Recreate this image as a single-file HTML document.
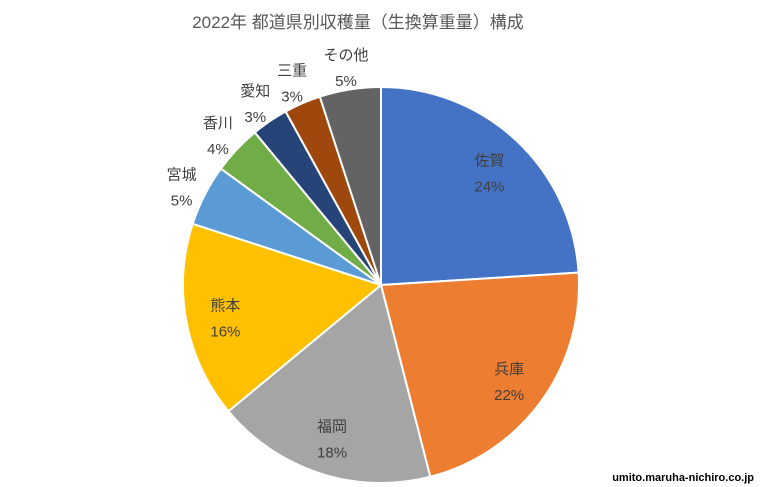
<!DOCTYPE html>
<html><head><meta charset="utf-8"><style>
body{margin:0;background:#fff;}
svg{display:block;font-family:"Liberation Sans","Noto Sans CJK JP",sans-serif;}
</style></head><body>
<svg id="chart" width="760" height="487">
<text x="358" y="28" text-anchor="middle" font-size="17" fill="#595959">2022年 都道県別収穫量（生換算重量）構成</text>
<g id="slices"></g>
<g id="labels"></g>
<text x="754" y="481" text-anchor="end" font-size="11" font-weight="bold" fill="#000">umito.maruha-nichiro.co.jp</text>
</svg>
<script>
const categories=["佐賀","兵庫","福岡","熊本","宮城","香川","愛知","三重","その他"];
const values=[24,22,18,16,5,4,3,3,5];
const colors=["#4472C4","#ED7D31","#A5A5A5","#FFC000","#5B9BD5","#70AD47","#264478","#9E480E","#636363"];
const cx=381,cy=285,r=198;
const ns="http://www.w3.org/2000/svg";
const total=values.reduce((a,b)=>a+b,0);
const sg=document.getElementById('slices'),lg=document.getElementById('labels');
function pt(a,rad){return [cx+rad*Math.sin(a),cy-rad*Math.cos(a)];}
let cum=0;
values.forEach((v,i)=>{
  const a0=cum/total*2*Math.PI;cum+=v;const a1=cum/total*2*Math.PI;
  const p0=pt(a0,r),p1=pt(a1,r);
  const path=document.createElementNS(ns,'path');
  path.setAttribute('d',`M${cx},${cy}L${p0[0]},${p0[1]}A${r},${r} 0 ${a1-a0>Math.PI?1:0} 1 ${p1[0]},${p1[1]}Z`);
  path.setAttribute('fill',colors[i]);path.setAttribute('stroke','#fff');path.setAttribute('stroke-width','2');
  
  
  sg.appendChild(path);
  const pct=v/total*100;
  const am=(a0+a1)/2;
  const lp=pt(am,pct>=10?r*0.8:r*1.13);
  const t=document.createElementNS(ns,'text');
  t.setAttribute('text-anchor','middle');t.setAttribute('font-size','15');t.setAttribute('fill','#404040');
  
  
  const s1=document.createElementNS(ns,'tspan');s1.setAttribute('x',lp[0]);s1.setAttribute('y',lp[1]-4);s1.textContent=categories[i];
  const s2=document.createElementNS(ns,'tspan');s2.setAttribute('x',lp[0]);s2.setAttribute('y',lp[1]+22);s2.textContent=Math.round(pct)+'%';
  t.appendChild(s1);t.appendChild(s2);lg.appendChild(t);
});
</script>
</body></html>
